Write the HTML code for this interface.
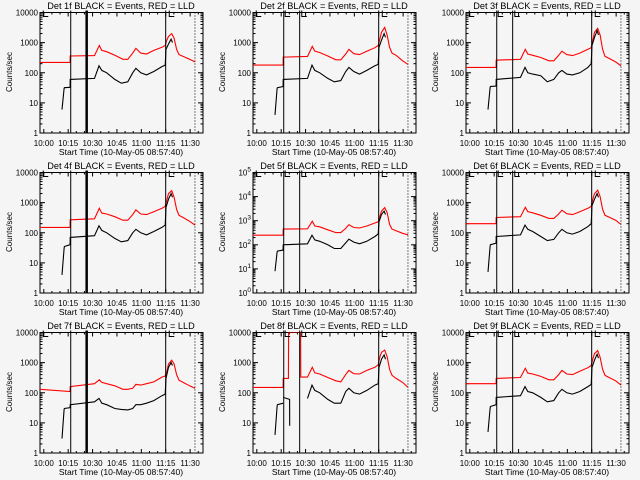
<!DOCTYPE html>
<html><head><meta charset="utf-8">
<style>
html,body{margin:0;padding:0;background:#f5f5f5;}
svg{display:block;font-family:"Liberation Sans",sans-serif;}
</style></head>
<body>
<svg id="chart" width="640" height="480" viewBox="0 0 640 480" xmlns="http://www.w3.org/2000/svg">
<rect x="0" y="0" width="640" height="480" fill="#f5f5f5"/>
</svg>
<script>
// minutes since start time 09:57:40
const redTimes = [0,18.5,18.6,33.5,36.5,38,41,46,51,54,57,59,62,65.5,70,75,77,78,79,81,82.5,84,85.5,88,92,95.3];
const blackTimes = [13.5,14.8,15,18.5,18.6,33.5,36.3,38,41,46,50,54,57,59,62,65.5,70,75,77,77.5,79,80.6,81.5];
const detNames = ["1f","2f","3f","4f","5f","6f","7f","8f","9f"];
const tickLabelsX = ["10:00","10:15","10:30","10:45","11:00","11:15","11:30"];
const tickMinutesX = [2.33,17.33,32.33,47.33,62.33,77.33,92.33];
const red1 = [220,220,360,370,800,550,500,380,280,280,450,650,450,420,550,700,800,1200,1600,2000,1400,600,400,350,280,230];
const black1 = [6,30,32,33,60,65,170,120,100,60,45,50,100,140,100,85,110,160,180,600,900,1300,1000];
const red2 = [180,180,330,350,750,520,470,360,270,270,420,600,430,400,520,680,800,1300,2200,3200,1800,700,450,380,250,190];
const black2 = [4,30,32,35,60,65,180,120,100,65,50,55,110,150,110,90,120,170,190,700,1200,2000,1500];
const red3 = [150,150,260,280,600,420,380,320,250,250,380,520,400,370,450,600,680,1200,2200,3000,1800,600,350,300,230,170];
const black3 = [6,32,35,36,60,70,150,100,90,80,50,60,100,120,90,85,100,150,200,800,1500,2500,1800];
const red4 = [150,150,270,290,650,450,420,340,260,260,400,580,420,400,500,650,750,1200,2000,2500,1500,600,380,320,240,180];
const black4 = [4,30,35,40,70,80,170,120,100,65,50,55,100,130,100,85,110,150,180,700,1300,2000,1500];
const red5 = [250,250,450,460,950,600,560,420,320,320,480,680,520,500,600,800,900,1500,2500,3500,2200,700,450,380,300,260];
const black5 = [8,50,55,60,100,110,250,160,140,100,70,70,120,170,130,110,140,220,280,900,1800,2500,1800];
const red6 = [200,200,320,340,700,500,460,380,300,300,420,560,430,400,500,650,750,1300,2000,2600,1600,600,380,330,260,190];
const black6 = [5,35,40,45,75,85,180,130,110,75,55,60,100,130,100,90,110,160,200,800,1300,2000,1500];
const red7 = [130,110,160,200,270,220,200,170,130,130,140,190,180,200,230,330,360,500,900,1200,900,400,260,220,170,140];
const black7 = [3,28,30,32,40,50,65,45,40,30,28,27,30,40,40,45,55,80,90,300,700,1000,800];
const red8 = [150,150,300,330,700,460,420,320,250,230,400,550,430,420,550,700,850,1500,2200,2600,1600,600,380,300,220,150];
const black8 = [4,35,40,45,null,65,180,120,100,60,45,45,110,140,100,90,120,180,200,700,1300,1800,1300];
const red8SpikeTimes = [18.6,21.8,21.9,29.3,29.4];
const red8SpikeValues = [300,300,10000,10000,330];
const black8GapTimes = [18.6,22.5,22.6];
const black8GapValues = [70,60,8];
const red9 = [200,200,300,320,650,450,420,350,270,270,400,550,420,400,520,680,800,1300,2000,2500,1500,600,380,320,250,180];
const black9 = [5,30,35,40,70,80,160,110,100,70,50,55,100,130,100,90,110,160,190,700,1200,1900,1400];
const redSeries = [red1,red2,red3,red4,red5,red6,red7,red8,red9];
const blackSeries = [black1,black2,black3,black4,black5,black6,black7,black8,black9];
const vlineTimes = [18.9, 28.7, 77.3];
const dottedTime = 95.3;

const NS = "http://www.w3.org/2000/svg";
const svg = document.getElementById("chart");
function mk(tag, attrs, parent){
  const e = document.createElementNS(NS, tag);
  for (const k in attrs) e.setAttribute(k, attrs[k]);
  (parent||svg).appendChild(e);
  return e;
}
const BX0 = 40, BX1 = 203, BY0 = 12.5, BY1 = 133;
const PXMIN = 1.626;

for (let p = 0; p < 9; p++) {
  const col = p % 3, row = Math.floor(p / 3);
  const ox = col * 213, oy = row * 160;
  const decades = (p === 4) ? 5 : 4;
  const g = mk("g", {transform: "translate(" + ox + "," + oy + ")"});
  
  
  const xS = t => BX0 + t * PXMIN;
  const yS = v => BY1 - Math.log10(v) / decades * (BY1 - BY0);
  const clipId = "clip" + p;
  const cp = mk("clipPath", {id: clipId}, g);
  mk("rect", {x: BX0, y: BY0, width: BX1 - BX0, height: BY1 - BY0}, cp);

  const title = mk("text", {x: 121, y: 9, "font-size": 9.2, "text-anchor": "middle", fill: "#000"}, g);
  title.textContent = "Det " + detNames[p] + " BLACK = Events, RED = LLD";
  
  

  const box = mk("rect", {x: BX0, y: BY0, width: BX1 - BX0, height: BY1 - BY0, fill: "none", stroke: "#000", "stroke-width": 1}, g);
  
  

  for (let i = 0; i < tickMinutesX.length; i++) {
    const x = xS(tickMinutesX[i]);
    mk("line", {x1: x, y1: BY1, x2: x, y2: BY1 - 4, stroke: "#000"}, g);
    mk("line", {x1: x, y1: BY0, x2: x, y2: BY0 + 4, stroke: "#000"}, g);
    const tl = mk("text", {x: x, y: 146, "font-size": 8, "text-anchor": "middle"}, g);
    tl.textContent = tickLabelsX[i];
    
    
    for (let m = 1; m < 3; m++) {
      const xm = xS(tickMinutesX[i] + m * 5);
      if (xm < BX1) {
        mk("line", {x1: xm, y1: BY1, x2: xm, y2: BY1 - 2, stroke: "#000"}, g);
        mk("line", {x1: xm, y1: BY0, x2: xm, y2: BY0 + 2, stroke: "#000"}, g);
      }
    }
    if (i === 0) {
      const xm = xS(tickMinutesX[0] - 5);
      if (xm > BX0) mk("line", {x1: xm, y1: BY1, x2: xm, y2: BY1 - 2, stroke: "#000"}, g);
    }
  }
  for (let d = 0; d <= decades; d++) {
    const y = yS(Math.pow(10, d));
    mk("line", {x1: BX0, y1: y, x2: BX0 + 5, y2: y, stroke: "#000"}, g);
    mk("line", {x1: BX1, y1: y, x2: BX1 - 5, y2: y, stroke: "#000"}, g);
    const yl = mk("text", {x: 38, y: y + 3, "font-size": 8, "text-anchor": "end"}, g);
    if (decades === 5) {
      yl.textContent = "10";
      const sup = mk("tspan", {dy: -4, "font-size": 6.5}, yl);
      sup.textContent = String(d);
    } else {
      yl.textContent = String(Math.pow(10, d));
    }
    
    
    if (d < decades) {
      for (let m = 2; m < 10; m++) {
        const ym = yS(m * Math.pow(10, d));
        mk("line", {x1: BX0, y1: ym, x2: BX0 + 2.5, y2: ym, stroke: "#000"}, g);
        mk("line", {x1: BX1, y1: ym, x2: BX1 - 2.5, y2: ym, stroke: "#000"}, g);
      }
    }
  }
  const yt = mk("text", {x: 12, y: 72, "font-size": 8, "text-anchor": "middle", transform: "rotate(-90 12 72)"}, g);
  yt.textContent = "Counts/sec";
  
  
  const xt = mk("text", {x: 121, y: 155, "font-size": 8.6, "text-anchor": "middle"}, g);
  xt.textContent = "Start Time (10-May-05 08:57:40)";
  
  

  function pathFrom(times, vals) {
    let d = "", pen = false;
    for (let i = 0; i < times.length; i++) {
      if (vals[i] == null) { pen = false; continue; }
      d += (pen ? "L" : "M") + xS(times[i]).toFixed(1) + " " + yS(vals[i]).toFixed(1);
      pen = true;
    }
    return d;
  }
  const sg = mk("g", {"clip-path": "url(#" + clipId + ")"}, g);
  let rd;
  if (p === 7) {
    const t = [], v = [];
    redTimes.forEach((tt, i) => { if (tt <= 18.5) { t.push(tt); v.push(redSeries[p][i]); } });
    red8SpikeTimes.forEach((tt, i) => { t.push(tt); v.push(red8SpikeValues[i]); });
    redTimes.forEach((tt, i) => { if (tt >= 33.5) { t.push(tt); v.push(redSeries[p][i]); } });
    rd = pathFrom(t, v);
  } else rd = pathFrom(redTimes, redSeries[p]);
  const rp = mk("path", {d: rd, fill: "none", stroke: "#ff0000", "stroke-width": 1.1}, sg);
  
  
  let bd = pathFrom(blackTimes, blackSeries[p]);
  if (p === 7) bd += pathFrom(black8GapTimes, black8GapValues);
  const bp = mk("path", {d: bd, fill: "none", stroke: "#000", "stroke-width": 1.1}, sg);
  
  

  vlineTimes.forEach((vt, i) => {
    const thick = (i === 1 && col === 0);
    const x = xS(vt);
    const vl = mk("line", {x1: x, y1: BY0 - 2, x2: x, y2: BY1, stroke: "#000", "stroke-width": thick ? 2.5 : 1}, g);
    
    
  });
  const dl = mk("line", {x1: xS(dottedTime), y1: BY0, x2: xS(dottedTime), y2: BY1, stroke: "#000", "stroke-dasharray": "1,2"}, g);
  
  
  [2, 79.5].concat(col === 0 ? [] : [19.8, 30]).forEach(bt => {
    const x = xS(bt);
    mk("path", {d: "M" + x + " " + (BY0 - 2) + "V" + (BY0 + 4) + "H" + (x + 5), fill: "none", stroke: "#000"}, g);
  });
}
</script>
</body></html>
